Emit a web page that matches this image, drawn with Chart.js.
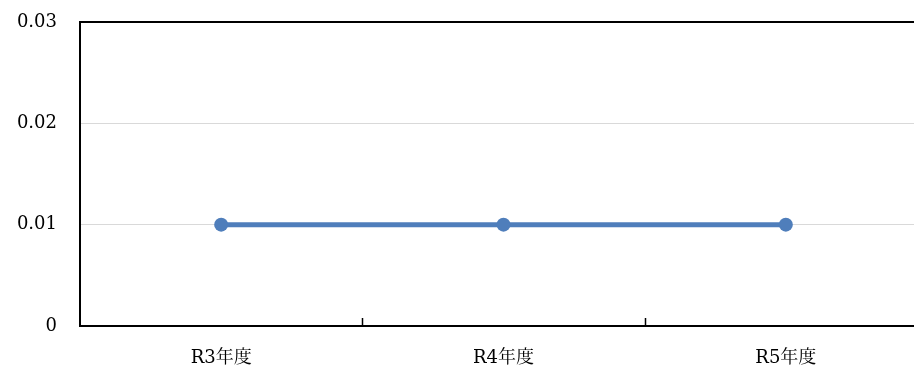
<!DOCTYPE html>
<html>
<head>
<meta charset="utf-8">
<script src="https://cdn.jsdelivr.net/npm/chart.js@4/dist/chart.umd.min.js"></script>
<style>
  html, body { margin: 0; padding: 0; background: #fff; overflow: hidden; }
  #wrap { width: 914px; height: 369px; overflow: hidden; }
  canvas { display: block; }
</style>
</head>
<body>
<div id="wrap"><canvas id="c" width="934" height="369"></canvas></div>
<script>
const categories = ['R3年度', 'R4年度', 'R5年度'];
const values = [0.01, 0.01, 0.01];
const yTicks = [0, 0.01, 0.02, 0.03];

const FONT = '"DejaVu Serif", "Noto Serif CJK JP", "Noto Sans CJK JP", serif';

// short inward tick marks on the category boundaries of the x axis
const innerTicks = {
  id: 'innerTicks',
  afterDraw(chart) {
    const x = chart.scales.x, ctx = chart.ctx;
    const bottom = chart.chartArea.bottom;
    ctx.save();
    ctx.strokeStyle = '#000';
    ctx.lineWidth = 1.5;
    for (let i = 1; i < categories.length; i++) {
      const px = (x.getPixelForValue(i - 1) + x.getPixelForValue(i)) / 2;
      ctx.beginPath();
      ctx.moveTo(Math.round(px) + 0.5, bottom - 8);
      ctx.lineTo(Math.round(px) + 0.5, bottom);
      ctx.stroke();
    }
    ctx.restore();
  }
};

new Chart(document.getElementById('c'), {
  type: 'line',
  data: {
    labels: categories,
    datasets: [{
      data: values,
      borderColor: '#4F7EBB',
      backgroundColor: '#4F7EBB',
      borderWidth: 5,
      pointRadius: 7,
      pointHoverRadius: 7,
      pointBackgroundColor: '#4F7EBB',
      pointBorderColor: '#4F7EBB',
      pointBorderWidth: 0,
      tension: 0
    }]
  },
  options: {
    responsive: false,
    animation: false,
    layout: { padding: { top: 22, right: 0, bottom: 0, left: 0 } },
    plugins: { legend: { display: false }, tooltip: { enabled: false } },
    scales: {
      x: {
        offset: true,
        grid: { display: false },
        border: { display: true, color: '#000', width: 2 },
        ticks: { color: '#000', font: { family: FONT, size: 18 }, padding: 14 },
        afterFit(s) { s.height = 43; s.paddingLeft = 0; s.paddingRight = 0; }
      },
      y: {
        min: 0,
        max: 0.03,
        afterBuildTicks(s) { s.ticks = yTicks.map(v => ({ value: v })); },
        grid: {
          drawTicks: false,
          color: c => (c.tick && c.tick.value === 0.03) ? '#000' : '#d9d9d9',
          lineWidth: c => (c.tick && c.tick.value === 0.03) ? 2 : 1
        },
        border: { display: true, color: '#000', width: 2 },
        ticks: {
          color: '#000',
          font: { family: FONT, size: 18 },
          padding: 23,
          callback: v => String(v)
        },
        afterFit(s) { s.width = 80; s.paddingTop = 0; s.paddingBottom = 0; }
      }
    }
  },
  plugins: [innerTicks]
});
</script>
</body>
</html>
